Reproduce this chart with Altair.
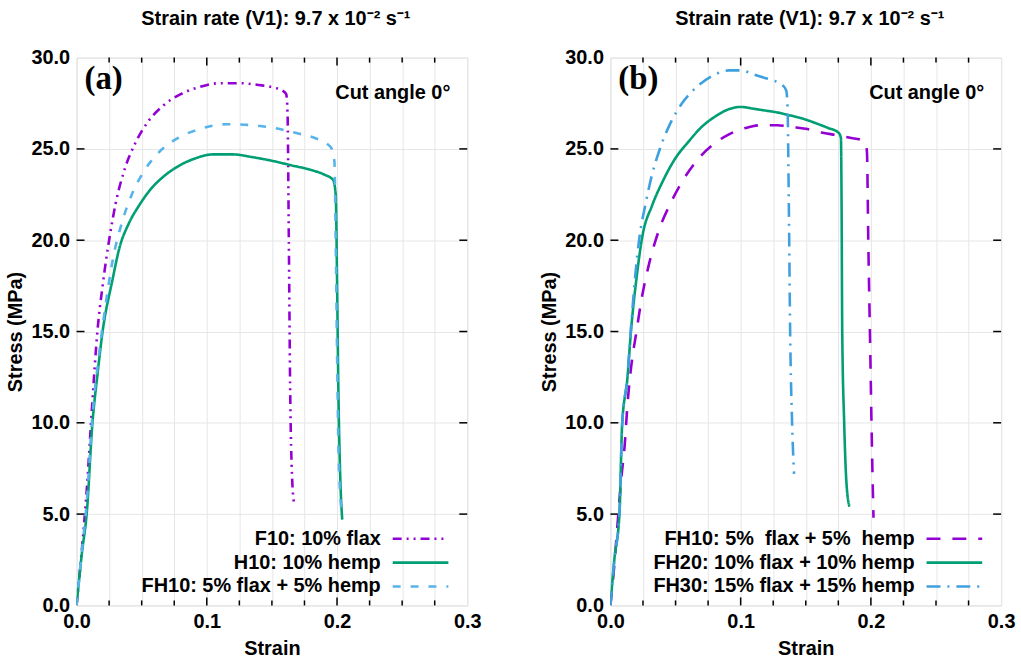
import altair as alt
import pandas as pd

# ---------------- Panel (a): single fibre vs hybrid ----------------
f10_strain = [0, 0.004, 0.008, 0.012, 0.016, 0.02, 0.025, 0.03, 0.037, 0.045, 0.055, 0.067,
              0.08, 0.095, 0.11, 0.125, 0.14, 0.152, 0.158, 0.161, 0.162, 0.163, 0.164, 0.1655, 0.167]
f10_stress = [0, 3.0, 6.5, 11.0, 15.0, 17.5, 20.0, 22.0, 23.9, 25.3, 26.5, 27.4,
              28.0, 28.4, 28.6, 28.6, 28.5, 28.35, 28.2, 28.0, 27.0, 20.0, 12.0, 7.0, 5.6]

h10_strain = [0, 0.004, 0.008, 0.012, 0.016, 0.02, 0.0275, 0.033, 0.04, 0.048, 0.057, 0.067,
              0.078, 0.09, 0.105, 0.12, 0.135, 0.15, 0.165, 0.18, 0.19, 0.197, 0.199, 0.2,
              0.201, 0.2025, 0.204]
h10_stress = [0, 2.8, 5.2, 9.8, 12.6, 15.0, 17.8, 19.6, 20.9, 21.9, 22.8, 23.5,
              24.05, 24.45, 24.7, 24.7, 24.55, 24.35, 24.1, 23.85, 23.6, 23.3, 22.5, 18.0,
              12.0, 7.0, 4.7]

fh10a_strain = [0, 0.004, 0.008, 0.012, 0.017, 0.022, 0.028, 0.035, 0.043, 0.052, 0.063, 0.078,
                0.095, 0.115, 0.135, 0.155, 0.17, 0.183, 0.192, 0.196, 0.198, 0.199, 0.2,
                0.201, 0.2025, 0.204]
fh10a_stress = [0, 2.9, 5.8, 10.2, 13.6, 16.3, 19.0, 21.0, 22.6, 23.8, 24.8, 25.6,
                26.1, 26.35, 26.3, 26.1, 25.85, 25.6, 25.3, 25.0, 24.3, 20.0, 14.0,
                9.0, 6.0, 5.0]

# ---------------- Panel (b): hybrid loadings ----------------
fh10b_strain = [0, 0.003, 0.0055, 0.0084, 0.011, 0.013, 0.016, 0.02, 0.0235, 0.029, 0.037, 0.046,
                0.055, 0.068, 0.08, 0.091, 0.104, 0.116, 0.128, 0.139, 0.15, 0.162, 0.174,
                0.185, 0.192, 0.196, 0.197, 0.198, 0.1995, 0.201, 0.202]
fh10b_stress = [0, 2.2, 4.5, 7.0, 8.8, 10.9, 13.1, 15.0, 16.6, 18.5, 20.5, 22.0,
                23.2, 24.5, 25.3, 25.8, 26.15, 26.3, 26.3, 26.2, 26.1, 25.9, 25.75,
                25.6, 25.5, 25.3, 24.8, 20.0, 14.0, 8.0, 4.8]

fh20_strain = [0, 0.003, 0.007, 0.009, 0.013, 0.016, 0.02, 0.0245, 0.032, 0.04, 0.05, 0.06,
               0.07, 0.081, 0.09, 0.1, 0.11, 0.119, 0.128, 0.137, 0.148, 0.158, 0.167,
               0.175, 0.177, 0.1775, 0.178, 0.1795, 0.181, 0.1835]
fh20_stress = [0, 2.5, 5.1, 9.9, 12.4, 15.2, 17.9, 20.2, 21.9, 23.2, 24.5, 25.4,
               26.2, 26.8, 27.15, 27.3, 27.2, 27.1, 27.0, 26.85, 26.65, 26.4, 26.15,
               25.9, 25.6, 22.0, 15.0, 10.0, 7.0, 5.4]

fh30_strain = [0, 0.003, 0.007, 0.009, 0.013, 0.016, 0.019, 0.022, 0.027, 0.032, 0.0375, 0.046,
               0.055, 0.068, 0.081, 0.091, 0.101, 0.109, 0.118, 0.127, 0.132, 0.135, 0.136,
               0.137, 0.138, 0.1395, 0.141]
fh30_stress = [0, 2.5, 5.1, 9.9, 12.5, 15.4, 18.0, 20.0, 22.0, 23.6, 24.9, 26.4,
               27.5, 28.5, 29.1, 29.3, 29.3, 29.1, 28.9, 28.7, 28.5, 28.2, 27.3,
               22.0, 15.0, 10.0, 7.2]

NB = "\u00a0"
legend_a = ["F10: 10% flax", "H10: 10% hemp", "FH10: 5% flax + 5% hemp"]
legend_b = [f"FH10: 5%{NB}{NB}flax + 5%{NB}{NB}hemp", "FH20: 10% flax + 10% hemp",
            "FH30: 15% flax + 15% hemp"]

x_minor_ticks = [0.025, 0.05, 0.075, 0.125, 0.15, 0.175, 0.225, 0.25, 0.275]
x_major_ticks = [0.1, 0.2]
x_grid_values = [0, 0.025, 0.05, 0.075, 0.1, 0.125, 0.15, 0.175, 0.2, 0.225, 0.25, 0.275, 0.3]
y_values = [0, 5, 10, 15, 20, 25, 30]

TITLE = "Strain rate (V1): 9.7 x 10\u207b\u00b2 s\u207b\u00b9"
CUT = "Cut angle 0\u00b0"

PURPLE = "#9400d3"
GREEN = "#009e73"
BLUE = "#56b4e9"
BLUE_B = "#3fa0e0"

SANS = "Liberation Sans"
SERIF = "Liberation Serif"
FS = 20

W, H = 393, 551

x_axis = alt.Axis(
    title="Strain", values=x_grid_values,
    labelExpr="abs(datum.value*10 - round(datum.value*10)) < 0.001 ? format(datum.value, '.1f') : ''",
    grid=True, gridColor="#e6e6e6", gridWidth=1, ticks=False, domain=False,
    labelFont=SANS, labelFontSize=FS, labelFontWeight="bold", labelColor="black",
    labelPadding=6, labelFlush=False, labelOverlap=False,
    titleFont=SANS, titleFontSize=FS, titleFontWeight="bold", titleColor="black", titlePadding=7,
)
y_axis = alt.Axis(
    title="Stress (MPa)", values=y_values, format=".1f",
    grid=True, gridColor="#e6e6e6", gridWidth=1, ticks=False, domain=False,
    labelFont=SANS, labelFontSize=FS, labelFontWeight="bold", labelColor="black",
    labelPadding=7, labelFlush=False, labelOverlap=False,
    titleFont=SANS, titleFontSize=FS, titleFontWeight="bold", titleColor="black", titlePadding=5,
)
X_SCALE = alt.Scale(domain=[0, 0.3], nice=False, zero=False)
Y_SCALE = alt.Scale(domain=[0, 30], nice=False, zero=False)


def xe():
    return alt.X("strain:Q", scale=X_SCALE, axis=x_axis)


def ye():
    return alt.Y("stress:Q", scale=Y_SCALE, axis=y_axis)


def curve(strain, stress, color, dash, width=2.6):
    df = pd.DataFrame({"strain": strain, "stress": stress, "order": list(range(len(strain)))})
    mark = alt.Chart(df).mark_line(color=color, strokeWidth=width, strokeDash=dash,
                                   interpolate="monotone", clip=True)
    return mark.encode(x=xe(), y=ye(), order="order:Q")


def ticks():
    """Inward-pointing ticks on all four sides of the frame."""
    layers = []
    for vals, ln in ((x_minor_ticks, 5), (x_major_ticks, 8)):
        df = pd.DataFrame({"strain": vals})
        layers.append(alt.Chart(df).mark_rule(color="black", strokeWidth=1.5).encode(
            x=xe(), y=alt.value(H), y2=alt.value(H - ln)))
        layers.append(alt.Chart(df).mark_rule(color="black", strokeWidth=1.5).encode(
            x=xe(), y=alt.value(0), y2=alt.value(ln)))
    df = pd.DataFrame({"stress": y_values[1:-1]})
    layers.append(alt.Chart(df).mark_rule(color="black", strokeWidth=1.5).encode(
        y=ye(), x=alt.value(0), x2=alt.value(8)))
    layers.append(alt.Chart(df).mark_rule(color="black", strokeWidth=1.5).encode(
        y=ye(), x=alt.value(W - 8), x2=alt.value(W)))
    return layers


def label_text(text, x, y, align="left", font=SANS, size=FS, baseline="middle"):
    df = pd.DataFrame({"t": [text]})
    return alt.Chart(df).mark_text(
        align=align, baseline=baseline, font=font, fontSize=size, fontWeight="bold", color="black"
    ).encode(text="t:N", x=alt.value(x), y=alt.value(y))


def legend(labels, colors, dashes, rows_y, text_right, sample_x):
    layers = []
    for lab, col, dash, yy in zip(labels, colors, dashes, rows_y):
        layers.append(label_text(lab, text_right, yy, align="right"))
        df = pd.DataFrame({"k": [lab]})
        layers.append(alt.Chart(df).mark_rule(color=col, strokeWidth=2.6, strokeDash=dash).encode(
            x=alt.value(sample_x[0]), x2=alt.value(sample_x[1]), y=alt.value(yy)))
    return layers


def panel(curves, tag, labels, colors, dashes, rows_y):
    layers = ticks() + curves
    layers.append(label_text(tag, 8, 22, font=SERIF, size=33))
    layers.append(label_text(CUT, 376, 36, align="right"))
    layers += legend(labels, colors, dashes, rows_y, 306, (318, 374))
    return alt.layer(*layers).properties(
        width=W, height=H,
        title=alt.TitleParams(TITLE, font=SANS, fontSize=FS, fontWeight="bold", color="black",
                              anchor="middle", frame="group", offset=19, dx=4),
    )


dash_f10 = [9, 5, 2, 5, 2, 5]
dash_fh10a = [8, 10]
dash_fh10b = [14, 12]
dash_fh30 = [14, 7, 2, 7]

panel_a = panel(
    [curve(f10_strain, f10_stress, PURPLE, dash_f10),
     curve(h10_strain, h10_stress, GREEN, [1, 0]),
     curve(fh10a_strain, fh10a_stress, BLUE, dash_fh10a)],
    "(a)", legend_a, [PURPLE, GREEN, BLUE], [dash_f10, [1, 0], dash_fh10a], [484, 508, 532],
)
panel_b = panel(
    [curve(fh10b_strain, fh10b_stress, PURPLE, dash_fh10b),
     curve(fh20_strain, fh20_stress, GREEN, [1, 0]),
     curve(fh30_strain, fh30_stress, BLUE_B, dash_fh30)],
    "(b)", legend_b, [PURPLE, GREEN, BLUE_B], [dash_fh10b, [1, 0], dash_fh30], [484, 508, 532],
)

chart = alt.hconcat(panel_a, panel_b, spacing=57).configure_view(
    stroke="black", strokeWidth=2
).configure(background="white", padding={"left": 5, "top": 6, "right": 5, "bottom": 5})

chart.save("out.html", embed_options={"renderer": "svg", "actions": False})
